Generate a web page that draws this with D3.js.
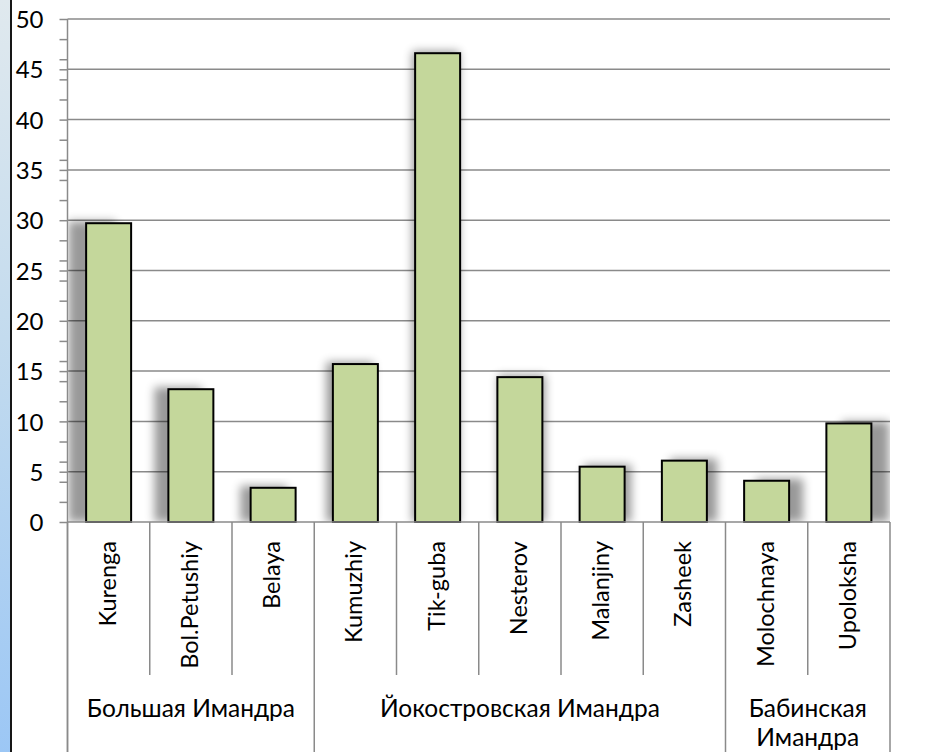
<!DOCTYPE html>
<html>
<head>
<meta charset="utf-8">
<script src="https://cdn.jsdelivr.net/npm/d3@7/dist/d3.min.js"></script>
<style>
  html, body { margin: 0; padding: 0; background: #fff; }
  svg { display: block; }
  text { font-family: Lato, "Open Sans", sans-serif; fill: #000; }
</style>
</head>
<body>
<svg id="chart" width="926" height="752"></svg>
<script>
// Lake tributaries and their values
const categories = ["Kurenga", "Bol.Petushiy", "Belaya", "Kumuzhiy", "Tik-guba",
                    "Nesterov", "Malanjiny", "Zasheek", "Molochnaya", "Upoloksha"];
const values = [29.7, 13.2, 3.4, 15.7, 46.6, 14.4, 5.5, 6.1, 4.1, 9.8];

// Lake basins grouping the tributaries (number of rivers in each)
const groupNames = ["Большая Имандра", "Йокостровская Имандра", "Бабинская Имандра"];
const groupSizes = [3, 5, 2];

// Value axis
const yMajorTicks = [0, 5, 10, 15, 20, 25, 30, 35, 40, 45, 50];
const yMinorTicks = [2, 4, 6, 8, 12, 14, 16, 18, 22, 24, 26, 28, 32, 34, 36, 38, 42, 44, 46, 48];

const W = 926, H = 752;
const plotLeft = 67.5, plotRight = 890, plotTop = 19, plotBase = 522;
const gridColor = "#8a8a8a";

const svg = d3.select("#chart");
const defs = svg.append("defs");

// window edge strip on the far left
const grad = defs.append("linearGradient").attr("id", "edge").attr("x1", 0).attr("y1", 0).attr("x2", 0).attr("y2", 1);
grad.append("stop").attr("offset", "0%").attr("stop-color", "#e0e9ee");
grad.append("stop").attr("offset", "45%").attr("stop-color", "#c3dbee");
grad.append("stop").attr("offset", "100%").attr("stop-color", "#9cc7f5");
svg.append("rect").attr("x", 0).attr("y", 0).attr("width", 10).attr("height", H).attr("fill", "url(#edge)");
svg.append("rect").attr("x", 10).attr("y", 0).attr("width", 2).attr("height", H).attr("fill", "#161616");

const blur = defs.append("filter").attr("id", "soft").attr("x", "-50%").attr("y", "-20%").attr("width", "200%").attr("height", "140%");
blur.append("feGaussianBlur").attr("stdDeviation", 5);
defs.append("clipPath").attr("id", "plotClip")
  .append("rect").attr("x", plotLeft + 1).attr("y", 0).attr("width", plotRight - plotLeft - 1).attr("height", plotBase);

const x = d3.scaleBand().domain(categories).range([plotLeft, plotRight]).paddingInner(0.453).paddingOuter(0.2265);
const cell = d3.scaleBand().domain(categories).range([plotLeft, plotRight]).padding(0);
const y = d3.scaleLinear().domain([0, 50]).range([plotBase, plotTop]);

// horizontal gridlines
svg.append("g").selectAll("line").data(yMajorTicks.filter(d => d > 0)).join("line")
  .attr("x1", plotLeft).attr("x2", plotRight)
  .attr("y1", d => y(d)).attr("y2", d => y(d))
  .attr("stroke", gridColor).attr("stroke-width", 1.5);

// value axis with major and minor ticks
const yAxis = svg.append("g").attr("transform", `translate(${plotLeft},0)`)
  .call(d3.axisLeft(y).tickValues(yMajorTicks).tickSize(8).tickPadding(16).tickFormat(d3.format("d")));
yAxis.select(".domain").remove();
yAxis.selectAll(".tick line").attr("stroke", gridColor).attr("stroke-width", 1.5);
yAxis.selectAll(".tick text").attr("font-size", 24).attr("font-family", "Lato, sans-serif").attr("dy", "0.36em");
svg.append("g").attr("transform", `translate(${plotLeft},0)`)
  .call(d3.axisLeft(y).tickValues(yMinorTicks).tickSize(8).tickFormat(""))
  .call(g => g.select(".domain").remove())
  .selectAll(".tick line").attr("stroke", gridColor).attr("stroke-width", 1.5);
svg.append("line").attr("x1", plotLeft).attr("x2", plotLeft).attr("y1", plotTop).attr("y2", H)
  .attr("stroke", gridColor).attr("stroke-width", 1.5);

// soft perspective shadows behind the bars
const cxPlot = (plotLeft + plotRight) / 2;
svg.append("g").attr("clip-path", "url(#plotClip)")
  .selectAll("rect").data(categories).join("rect")
  .attr("x", d => cxPlot + (x(d) - cxPlot) * 1.045)
  .attr("width", x.bandwidth() * 1.045)
  .attr("y", (d, i) => y(values[i]) - 2)
  .attr("height", (d, i) => plotBase - y(values[i]) + 2)
  .attr("fill", "#000").attr("opacity", 0.4)
  .attr("filter", "url(#soft)");

// bars
svg.append("g").selectAll("rect").data(categories).join("rect")
  .attr("x", d => x(d))
  .attr("width", x.bandwidth())
  .attr("y", (d, i) => y(values[i]))
  .attr("height", (d, i) => plotBase - y(values[i]))
  .attr("fill", "#c4d79b")
  .attr("stroke", "#000").attr("stroke-width", 2);

// category axis: baseline, cell dividers and labels
svg.append("line").attr("x1", plotLeft).attr("x2", plotRight).attr("y1", plotBase).attr("y2", plotBase)
  .attr("stroke", gridColor).attr("stroke-width", 1.5);

const groupStarts = [];
let acc = 0;
groupSizes.forEach(n => { groupStarts.push(acc); acc += n; });
const groupEdgeIdx = new Set(groupStarts.concat([categories.length]));

const edges = d3.range(categories.length + 1);
svg.append("g").selectAll("line").data(edges).join("line")
  .attr("x1", i => plotLeft + i * cell.step()).attr("x2", i => plotLeft + i * cell.step())
  .attr("y1", plotBase).attr("y2", i => groupEdgeIdx.has(i) ? H : 675)
  .attr("stroke", gridColor).attr("stroke-width", 1.5);

svg.append("g").selectAll("text").data(categories).join("text")
  .attr("transform", d => `translate(${cell(d) + cell.bandwidth() / 2 + 7},541) rotate(-90)`)
  .attr("text-anchor", "end")
  .attr("font-size", 23.5)
  .text(d => d);

// group labels, wrapped onto two lines when wider than their span
const gLabels = svg.append("g");
groupNames.forEach((name, gi) => {
  const x0 = plotLeft + groupStarts[gi] * cell.step();
  const x1 = x0 + groupSizes[gi] * cell.step();
  const t = gLabels.append("text").attr("x", (x0 + x1) / 2).attr("y", 717)
    .attr("text-anchor", "middle").attr("font-size", 24.5).text(name);
  if (t.node().getComputedTextLength() > (x1 - x0) - 10) {
    const words = name.split(" ");
    t.text(null);
    words.forEach((w, k) => {
      t.append("tspan").attr("x", (x0 + x1) / 2).attr("y", 717 + k * 29).text(w);
    });
  }
});
</script>
</body>
</html>
